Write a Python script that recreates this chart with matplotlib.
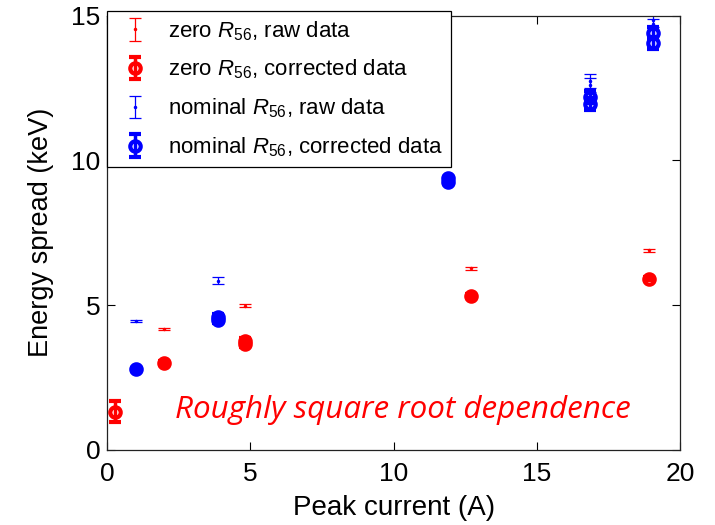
import matplotlib
matplotlib.use("Agg")
import matplotlib.pyplot as plt

plt.rcParams["font.family"] = ["Liberation Sans", "DejaVu Sans"]
plt.rcParams["mathtext.fontset"] = "custom"
plt.rcParams["mathtext.rm"] = "Liberation Sans"
plt.rcParams["mathtext.it"] = "Liberation Sans:italic"

# ── zero R56 ─────────────────────────────────────────────────
zero_raw_x = [1.99, 4.82, 12.69, 18.93]
zero_raw_y = [4.17, 4.98, 6.27, 6.89]
zero_raw_err = [0.03, 0.05, 0.04, 0.06]

zero_cor_x = [0.28, 1.99, 4.82, 4.82, 12.69, 18.93]
zero_cor_y = [1.32, 3.00, 3.65, 3.78, 5.32, 5.92]
zero_cor_err = [0.36, 0.08, 0.08, 0.08, 0.06, 0.06]

# ── nominal R56 ──────────────────────────────────────────────
nom_raw_x = [0.99, 3.87, 11.89, 16.86, 16.86, 19.07, 19.07]
nom_raw_y = [4.46, 5.85, 9.35, 12.75, 12.60, 14.85, 14.70]
nom_raw_err = [0.04, 0.12, 0.05, 0.25, 0.25, 0.25, 0.2]

nom_cor_x = [0.99, 3.87, 3.87, 11.89, 11.89, 16.86, 16.86, 19.07, 19.07]
nom_cor_y = [2.79, 4.50, 4.60, 9.25, 9.38, 11.95, 12.20, 14.06, 14.40]
nom_cor_err = [0.05, 0.1, 0.1, 0.05, 0.05, 0.2, 0.2, 0.2, 0.2]

x_ticks = [0, 5, 10, 15, 20]
y_ticks = [0, 5, 10, 15]

fig = plt.figure(figsize=(7.15, 5.25), dpi=100)
ax = fig.add_axes([0.150, 0.143, 0.801, 0.827])

raw_style = dict(fmt=".", ms=3, lw=0.9, capsize=4, capthick=0.9)
cor_style = dict(fmt="o", ms=7.5, mfc="none", mew=3, lw=2.5, capsize=4, capthick=2.5)

ax.errorbar(zero_raw_x, zero_raw_y, yerr=zero_raw_err, color="red",
            label=r"zero $R_{56}$, raw data", **raw_style)
ax.errorbar(zero_cor_x, zero_cor_y, yerr=zero_cor_err, color="red",
            label=r"zero $R_{56}$, corrected data", **cor_style)
ax.errorbar(nom_raw_x, nom_raw_y, yerr=nom_raw_err, color="blue",
            label=r"nominal $R_{56}$, raw data", **raw_style)
ax.errorbar(nom_cor_x, nom_cor_y, yerr=nom_cor_err, color="blue",
            label=r"nominal $R_{56}$, corrected data", **cor_style)

ax.set_xlim(0, 20)
ax.set_ylim(0, 15)
ax.set_xticks(x_ticks)
ax.set_yticks(y_ticks)
ax.tick_params(direction="in", top=True, right=True, length=6, width=0.8,
               labelsize=19)
ax.tick_params(axis="x", pad=9)
ax.tick_params(axis="y", pad=5)
for s in ax.spines.values():
    s.set_linewidth(0.9)
    s.set_color("#222222")

ax.set_xlabel("Peak current (A)", fontsize=20, labelpad=6)
ax.set_ylabel("Energy spread (keV)", fontsize=19.5, labelpad=12)

ax.text(2.37, 1.38, "Roughly square root dependence", color="red",
        fontsize=22.6, style="italic", family=["Open Sans", "DejaVu Sans"],
        va="center", ha="left")

leg = ax.legend(loc="upper left", bbox_to_anchor=(0, 1.01), borderaxespad=0,
                fontsize=16, frameon=True, fancybox=False, framealpha=1,
                edgecolor="black", handlelength=1.8, handletextpad=0.6,
                labelspacing=0.68, borderpad=0.35)
leg.get_frame().set_linewidth(0.9)

fig.savefig("out.png", dpi=100)
